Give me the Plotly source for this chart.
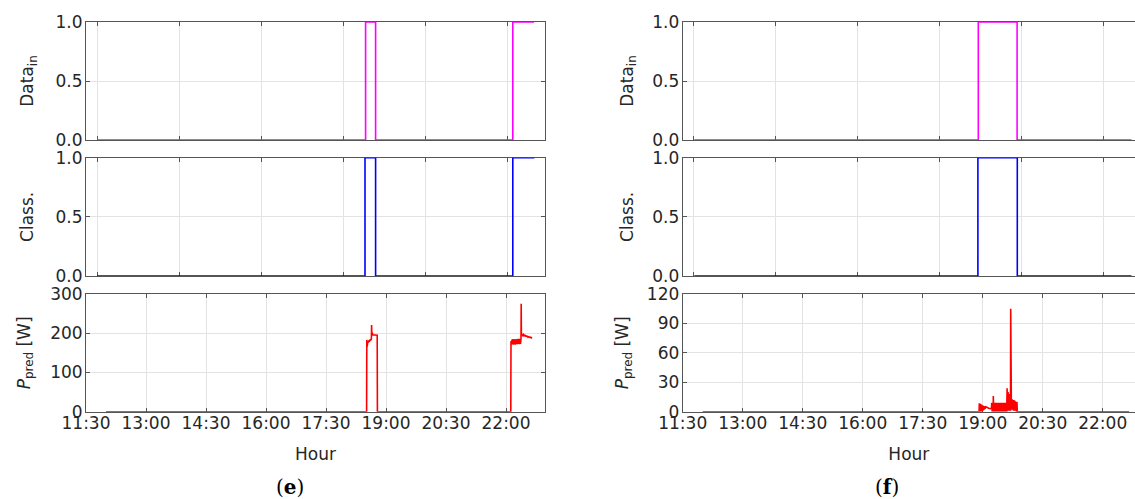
import plotly.graph_objects as go

# ---------------- data (time in decimal hours) ----------------
# Panel (e)
e_data_t = [11.775, 18.49, 18.74, 22.17, 22.70]
e_data_v = [0, 1, 0, 1, 1]
e_class_t = [11.775, 18.475, 18.74, 22.17, 22.71]
e_class_v = [0, 1, 0, 1, 1]
e_p_t = [12.00, 18.515, 18.52, 18.53, 18.54, 18.55, 18.56, 18.57, 18.58, 18.59,
         18.60, 18.61, 18.62, 18.635, 18.64, 18.645, 18.66, 18.67, 18.78, 18.785,
         22.12, 22.125, 22.1375, 22.15, 22.1625, 22.175, 22.1875, 22.20, 22.2125,
         22.225, 22.2375, 22.25, 22.2625, 22.275, 22.2875, 22.30, 22.3125, 22.325,
         22.3375, 22.35, 22.3625, 22.375, 22.38, 22.385, 22.41, 22.43, 22.45, 22.47,
         22.50, 22.52, 22.55, 22.57, 22.60, 22.62, 22.65]
e_p_v = [0, 0, 183, 166, 175, 180, 176, 182, 178, 183,
         180, 185, 182, 186, 221, 200, 200, 196, 195, 0,
         0, 180, 171, 184, 172, 185, 171, 184, 172, 185,
         171, 184, 173, 185, 172, 186, 173, 186, 172, 186,
         173, 186, 275, 196, 194, 197, 193, 195, 192, 193,
         190, 191, 189, 190, 187]

# Panel (f)
f_data_t = [11.79, 18.89, 19.86, 22.72]
f_data_v = [0, 1, 0, 0]
f_class_t = [11.79, 18.88, 19.865, 22.72]
f_class_v = [0, 1, 0, 0]
f_p_t = [12.00, 18.91, 18.915, 18.925, 18.935, 18.945, 18.955, 18.965, 18.975,
         18.985, 18.995, 19.005, 19.015, 19.03, 19.045, 19.06, 19.08, 19.10, 19.15,
         19.22, 19.225, 19.2375, 19.25, 19.2625, 19.265, 19.275, 19.2875, 19.30,
         19.3125, 19.325, 19.3375, 19.35, 19.3625, 19.375, 19.3875, 19.40, 19.4125,
         19.425, 19.4375, 19.45, 19.4625, 19.475, 19.4875, 19.50, 19.5125, 19.525,
         19.5375, 19.55, 19.5625, 19.575, 19.5875, 19.60, 19.61, 19.6225, 19.635,
         19.6475, 19.66, 19.6725, 19.685, 19.695, 19.70, 19.705, 19.7175, 19.73,
         19.7425, 19.755, 19.7675, 19.78, 19.7925, 19.805, 19.8175, 19.83, 19.8425,
         19.855, 19.865, 22.66]
f_p_v = [0, 0, 8.5, 0, 8, 0, 7.5, 0, 7,
         0.5, 6.5, 1, 6, 2, 5.5, 3, 5, 4.5, 3.5,
         3, 9, 0, 9, 0, 16, 0, 9, 0,
         9, 0, 9, 0, 9, 0, 9, 0, 9,
         0, 9, 0, 9, 0, 9, 0, 9, 0,
         9, 0, 9, 0, 9, 0, 24, 1, 20,
         1, 18, 1, 16, 1, 105, 13, 2, 13,
         2, 12, 1, 12, 1, 11, 1, 10, 0,
         10, 0, 0]

hour_tickvals = [11.5, 13.0, 14.5, 16.0, 17.5, 19.0, 20.5, 22.0]
hour_ticktext = ["11:30", "13:00", "14:30", "16:00", "17:30", "19:00", "20:30", "22:00"]
upper_tickvals = [11.775, 13.825, 15.875, 17.925, 19.975, 22.025]
unit_ticks = [0.0, 0.5, 1.0]
e_p_ticks = [0, 100, 200, 300]
f_p_ticks = [0, 30, 60, 90, 120]

# ---------------- figure ----------------
W, H = 1135, 499
fig = go.Figure()

MAG, BLUE, RED = "#FF00FF", "#0000FF", "#FF0000"
series = [
    (e_data_t, e_data_v, MAG, "hv"), (e_class_t, e_class_v, BLUE, "hv"), (e_p_t, e_p_v, RED, "linear"),
    (f_data_t, f_data_v, MAG, "hv"), (f_class_t, f_class_v, BLUE, "hv"), (f_p_t, f_p_v, RED, "linear"),
]
for i, (t, v, c, shp) in enumerate(series):
    n = "" if i == 0 else str(i + 1)
    fig.add_trace(go.Scatter(x=t, y=v, mode="lines", line=dict(color=c, width=1.6, shape=shp),
                             xaxis="x" + n, yaxis="y" + n, showlegend=False, hoverinfo="skip",
                             cliponaxis=False))

xdom = [[86 / W, 545 / W], [682.7 / W, 1.0]]
xrng = [[11.5, 22.975], [11.5, 11.5 + (W - 682.7) / 40.0]]
ydom = [[1 - 140 / H, 1 - 22 / H], [1 - 276 / H, 1 - 157.7 / H], [1 - 411.7 / H, 1 - 294 / H]]

AX = "#555555"
TXT = "#262626"
FONT = "DejaVu Sans, Verdana, sans-serif"
FS = 17
ytitles = ["Data<sub>in</sub>", "Class.", "<i>P</i><sub>pred</sub> [W]"]
ystand = [[17, 17, 15], [14, 14, 13]]

layout = dict(width=W, height=H, margin=dict(l=0, r=0, t=0, b=0),
              paper_bgcolor="white", plot_bgcolor="white", template="none",
              font=dict(family=FONT, size=FS, color=TXT))

for col in range(2):
    for row in range(3):
        idx = col * 3 + row + 1
        n = "" if idx == 1 else str(idx)
        xa = dict(domain=xdom[col], range=xrng[col], anchor="y" + n,
                  showline=True, linecolor=AX, linewidth=1, mirror="ticks",
                  ticks="inside", ticklen=4, tickcolor=AX, tickwidth=1,
                  showgrid=True, gridcolor="#e3e3e3", gridwidth=1, zeroline=False,
                  automargin=False, fixedrange=True, layer="below traces")
        if row == 2:
            xa.update(tickmode="array", tickvals=hour_tickvals, ticktext=hour_ticktext,
                      tickfont=dict(size=FS, color=TXT), ticklabelstandoff=-4,
                      title=dict(text="Hour", font=dict(size=FS, color=TXT), standoff=16))
        else:
            xa.update(tickmode="array", tickvals=upper_tickvals, showticklabels=False)
        if row < 2:
            yt, yr, fmt = unit_ticks, [0, 1], ".1f"
        elif col == 0:
            yt, yr, fmt = e_p_ticks, [0, 300], "d"
        else:
            yt, yr, fmt = f_p_ticks, [0, 120], "d"
        ya = dict(domain=ydom[row], range=yr, anchor="x" + n,
                  showline=True, linecolor=AX, linewidth=1,
                  mirror="ticks" if col == 0 else False,
                  ticks="inside", ticklen=4, tickcolor=AX, tickwidth=1,
                  tickmode="array", tickvals=yt, tickformat=fmt,
                  tickfont=dict(size=FS, color=TXT), ticklabelstandoff=-1,
                  showgrid=True, gridcolor="#e3e3e3", gridwidth=1, zeroline=False,
                  automargin=False, fixedrange=True, layer="below traces",
                  title=dict(text=ytitles[row], font=dict(size=FS, color=TXT),
                             standoff=ystand[col][row]))
        layout["xaxis" + n] = xa
        layout["yaxis" + n] = ya

fig.update_layout(**layout)

fig.add_annotation(x=290 / W, y=1 - 487 / H, xref="paper", yref="paper", showarrow=False,
                   xanchor="center", yanchor="middle",
                   text="(<b>e</b>)", font=dict(family="DejaVu Serif, serif", size=20, color="black"))
fig.add_annotation(x=887 / W, y=1 - 487 / H, xref="paper", yref="paper", showarrow=False,
                   xanchor="center", yanchor="middle",
                   text="(<b>f</b>)", font=dict(family="DejaVu Serif, serif", size=20, color="black"))

fig.write_html("out.html", config={"displayModeBar": False, "staticPlot": True},
               post_script="document.body.style.margin='0';document.body.style.overflow='hidden';")
